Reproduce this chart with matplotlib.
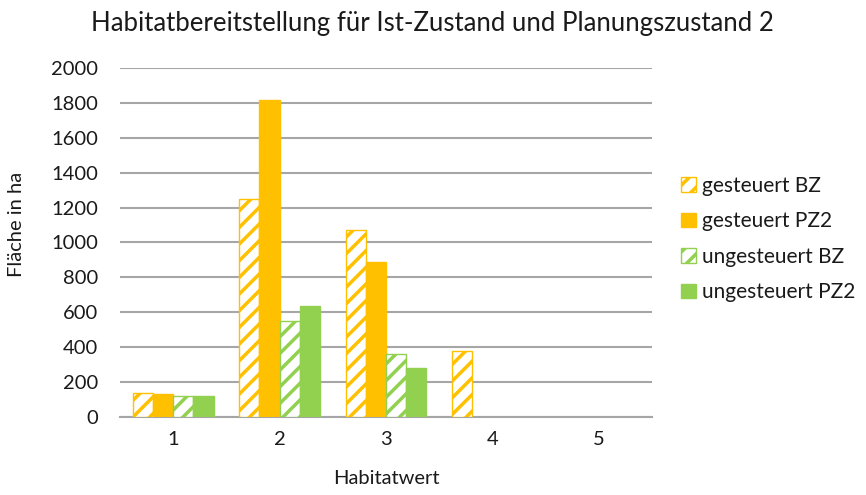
import numpy as np
import matplotlib.pyplot as plt

plt.rcParams['font.family'] = ['Lato', 'DejaVu Sans']
plt.rcParams['hatch.linewidth'] = 2.5

# Habitatwerte und Flächen (ha)
habitatwert = [1, 2, 3, 4, 5]
gesteuert_bz = [135, 1250, 1072, 380, 0]
gesteuert_pz2 = [132, 1817, 890, 0, 0]
ungesteuert_bz = [118, 552, 363, 0, 0]
ungesteuert_pz2 = [120, 638, 279, 0, 0]

orange = '#FFC000'
gruen = '#92D050'
text = '#1a1a1a'

fig = plt.figure(figsize=(8.66, 4.95), dpi=100)
ax = fig.add_axes([120 / 866, 1 - 417 / 495, 532 / 866, 349 / 495])

x = np.array(habitatwert, dtype=float)
w = 0.19
serien = [
    (gesteuert_bz, 'gesteuert BZ', 'white', orange, '//'),
    (gesteuert_pz2, 'gesteuert PZ2', orange, orange, None),
    (ungesteuert_bz, 'ungesteuert BZ', 'white', gruen, '//'),
    (ungesteuert_pz2, 'ungesteuert PZ2', gruen, gruen, None),
]
for i, (werte, name, fc, ec, hatch) in enumerate(serien):
    # leere Balken ohne Randlinie
    lw = [1.0 if v > 0 else 0.0 for v in werte]
    ax.bar(x + (i - 1.5) * w, werte, width=w, facecolor=fc, edgecolor=ec,
           hatch=hatch, linewidth=lw, label=name, zorder=3)

ax.set_xlim(0.5, 5.5)
ax.set_ylim(0, 2000)
ax.set_yticks(range(0, 2001, 200))
ax.set_xticks(habitatwert)
ax.yaxis.grid(True, color='#A6A6A6', linewidth=1.5, zorder=0)
ax.set_axisbelow(True)
for s in ['top', 'right', 'left']:
    ax.spines[s].set_visible(False)
ax.spines['bottom'].set_color('#A6A6A6')
ax.spines['bottom'].set_linewidth(1.5)
ax.tick_params(axis='both', length=0, labelsize=14.5, colors=text)
ax.tick_params(axis='y', pad=16)
ax.tick_params(axis='x', pad=10)

ax.set_xlabel('Habitatwert', fontsize=14.5, color=text, labelpad=16)
ax.set_ylabel('Fläche in ha', fontsize=14.5, color=text)
ax.yaxis.set_label_coords(-0.178, 0.553)
fig.suptitle('Habitatbereitstellung für Ist-Zustand und Planungszustand 2',
             fontsize=18.5, color=text, x=0.499, y=0.978)

leg = ax.legend(loc='center left', bbox_to_anchor=(1.02, 0.51), frameon=False,
                fontsize=15, labelspacing=0.75, handlelength=0.7,
                handleheight=0.7, handletextpad=0.3)
for t in leg.get_texts():
    t.set_color(text)

fig.savefig('out.png', dpi=100)
